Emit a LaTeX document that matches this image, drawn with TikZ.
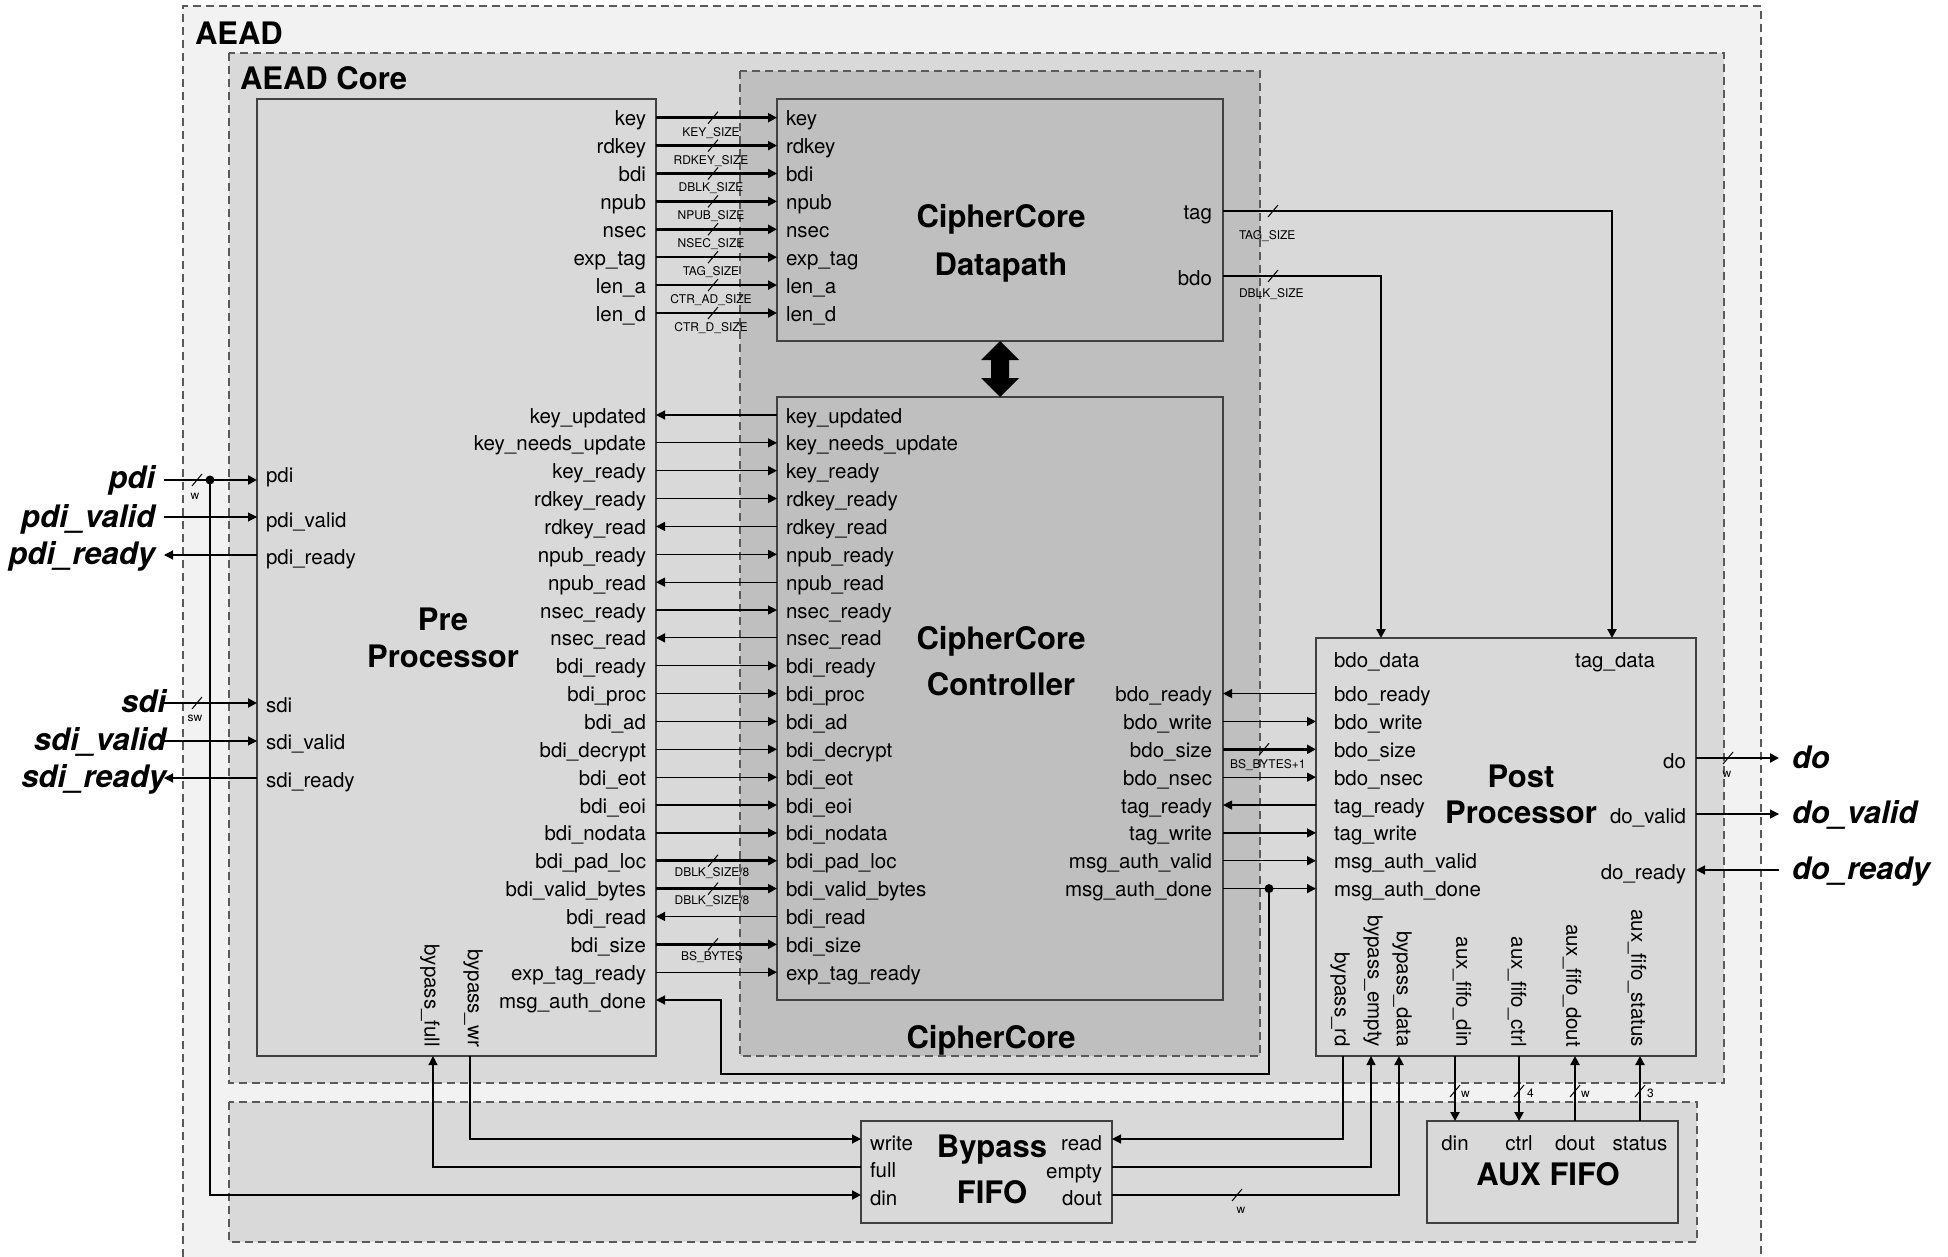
\documentclass[tikz,border=0pt]{standalone}
\usepackage{fontspec}
\setmainfont{TeX Gyre Heros}
\usetikzlibrary{arrows.meta}
\definecolor{aeadfill}{HTML}{F2F2F2}
\definecolor{corefill}{HTML}{D9D9D9}
\definecolor{ccfill}{HTML}{BFBFBF}
\definecolor{dashcol}{HTML}{5A5A5A}
\definecolor{boxcol}{HTML}{404040}
\tikzset{
  lbl/.style={inner sep=0pt, outer sep=0pt},
  sig/.style={lbl, font=\fontsize{20.5}{24}\selectfont},
  buslbl/.style={lbl, font=\fontsize{12}{14}\selectfont},
  ttl/.style={lbl, font=\fontsize{31}{36}\selectfont\bfseries},
  extlbl/.style={lbl, font=\fontsize{31}{36}\selectfont\bfseries\itshape},
  region/.style={draw=dashcol, line width=1.3pt, dash pattern=on 8pt off 5pt},
  blockbox/.style={draw=boxcol, line width=1.6pt, inner sep=0pt, outer sep=0pt, anchor=north west},
  wire/.style={line width=1.2pt},
  bwire/.style={line width=2.6pt},
  fwd/.style={wire, -{Triangle[length=9pt,width=9pt]}},
  bwd/.style={wire, {Triangle[length=9pt,width=9pt]}-},
  busfwd/.style={bwire, -{Triangle[length=9pt,width=9pt]}},
  slashmark/.style={line width=1pt},
}
\newcommand{\busmark}[2]{\draw[slashmark] ({#1-5},{#2+6}) -- ({#1+5},{#2-6});}
\begin{document}
\begin{tikzpicture}[x=1pt,y=-1pt]
\useasboundingbox (0,0) rectangle (1948,1257);

% ---------- regions ----------
\fill[aeadfill] (183,6) rectangle (1761,1257);
\draw[region] (183,1257) -- (183,6) -- (1761,6) -- (1761,1257);
\node[ttl, anchor=base west] (aeadlbl) at (195,45) {AEAD};
\draw[region, fill=corefill] (229,53) rectangle (1724,1083);
\node[ttl, anchor=base west] (corelbl) at (240,90) {AEAD Core};
\draw[region, fill=corefill] (229,1102) rectangle (1697,1242);
\draw[region, fill=ccfill] (740,71) rectangle (1260,1056);
\node[ttl, anchor=base] (cclbl) at (991,1048) {CipherCore};

% ---------- blocks ----------
\node[blockbox, fill=corefill, minimum width=399pt, minimum height=957pt] (pp) at (257,99) {};
\node[blockbox, fill=ccfill, minimum width=446pt, minimum height=242pt] (dp) at (777,99) {};
\node[blockbox, fill=ccfill, minimum width=446pt, minimum height=603pt] (cc) at (777,397) {};
\node[blockbox, fill=corefill, minimum width=380pt, minimum height=418pt] (post) at (1316,638) {};
\node[blockbox, fill=corefill, minimum width=251pt, minimum height=102pt] (byp) at (861,1121) {};
\node[blockbox, fill=corefill, minimum width=251pt, minimum height=102pt] (aux) at (1427,1121) {};

% titles
\node[ttl, anchor=base] (ppt1) at (443,630) {Pre};
\node[ttl, anchor=base] (ppt2) at (443,667) {Processor};
\node[ttl, anchor=base] (dpt1) at (1001,228) {CipherCore};
\node[ttl, anchor=base] (dpt2) at (1001,276) {Datapath};
\node[ttl, anchor=base] (cct1) at (1001,649) {CipherCore};
\node[ttl, anchor=base] (cct2) at (1001,695) {Controller};
\node[ttl, anchor=base] (pot1) at (1521,787) {Post};
\node[ttl, anchor=base] (pot2) at (1521,823) {Processor};
\node[ttl, anchor=base] (byt1) at (992,1157) {Bypass};
\node[ttl, anchor=base] (byt2) at (992,1203) {FIFO};
\node[ttl, anchor=base] (auxt) at (1548,1185) {AUX FIFO};

% double arrow datapath <-> controller
\fill (1000,341) -- (1019,360) -- (1009,360) -- (1009,378) -- (1019,378) -- (1000,397)
      -- (981,378) -- (991,378) -- (991,360) -- (981,360) -- cycle;

% ---------- PreProcessor -> Datapath ----------
\foreach \i/\t/\b in {0/key/KEY\_SIZE, 1/rdkey/RDKEY\_SIZE, 2/bdi/DBLK\_SIZE, 3/npub/NPUB\_SIZE,
    4/nsec/NSEC\_SIZE, 5/exp\_tag/TAG\_SIZE, 6/len\_a/CTR\_AD\_SIZE, 7/len\_d/CTR\_D\_SIZE}{
  \pgfmathsetmacro\y{117.7+27.9*\i}
  \node[sig, anchor=base east] (ppd\i) at (646,\y+8) {\t};
  \node[sig, anchor=base west] (dpl\i) at (786,\y+8) {\t};
  \coordinate (ppdo\i) at (656,\y);
  \coordinate (dpin\i) at (777,\y);
  \draw[busfwd] (ppdo\i) -- (dpin\i);
  \busmark{713}{\y}
  \node[buslbl, anchor=base] (bw\i) at (711,\y+18.5) {\b};
}

% ---------- PreProcessor <-> Controller ----------
\foreach \i/\t/\s in {0/key\_updated/bwd, 1/key\_needs\_update/fwd, 2/key\_ready/fwd,
    3/rdkey\_ready/fwd, 4/rdkey\_read/bwd, 5/npub\_ready/fwd, 6/npub\_read/bwd,
    7/nsec\_ready/fwd, 8/nsec\_read/bwd, 9/bdi\_ready/fwd, 10/bdi\_proc/fwd,
    11/bdi\_ad/fwd, 12/bdi\_decrypt/fwd, 13/bdi\_eot/fwd, 14/bdi\_eoi/fwd,
    15/bdi\_nodata/fwd, 16/bdi\_pad\_loc/busfwd, 17/bdi\_valid\_bytes/busfwd,
    18/bdi\_read/bwd, 19/bdi\_size/busfwd, 20/exp\_tag\_ready/fwd}{
  \pgfmathsetmacro\y{415+27.86*\i}
  \node[sig, anchor=base east] (ppc\i) at (646,\y+8) {\t};
  \node[sig, anchor=base west] (ccl\i) at (786,\y+8) {\t};
  \coordinate (ppco\i) at (656,\y);
  \coordinate (ccin\i) at (777,\y);
  \draw[\s] (ppco\i) -- (ccin\i);
}
\foreach \i/\b in {16/{DBLK\_SIZE/8}, 17/{DBLK\_SIZE/8}, 19/{BS\_BYTES}}{
  \pgfmathsetmacro\y{415+27.86*\i}
  \busmark{713}{\y}
  \node[buslbl, anchor=base] (cb\i) at (712,\y+16) {\b};
}
\node[sig, anchor=base east] (ppmad) at (646,1008) {msg\_auth\_done};
\coordinate (ppmadin) at (656,1000);

% ---------- Controller <-> PostProcessor ----------
\foreach \i/\t/\s in {10/bdo\_ready/bwd, 11/bdo\_write/fwd, 12/bdo\_size/busfwd,
    13/bdo\_nsec/fwd, 14/tag\_ready/bwd, 15/tag\_write/fwd, 16/msg\_auth\_valid/fwd,
    17/msg\_auth\_done/fwd}{
  \pgfmathsetmacro\y{415+27.86*\i}
  \node[sig, anchor=base east] (ccr\i) at (1212,\y+8) {\t};
  \node[sig, anchor=base west] (pol\i) at (1334,\y+8) {\t};
  \coordinate (ccout\i) at (1223,\y);
  \coordinate (poin\i) at (1316,\y);
  \draw[\s] (ccout\i) -- (poin\i);
}
\busmark{1264}{749.3}
\node[buslbl, anchor=base west] (bsb1) at (1230,768) {BS\_BYTES+1};
\coordinate (maddot) at (1269,888.6);
\fill (maddot) circle (4.5pt);
\draw[fwd] (maddot) -- (1269,1074) -- (721,1074) -- (721,1000) -- (ppmadin);

% ---------- Datapath -> PostProcessor ----------
\node[sig, anchor=base east] (dptag) at (1212,220) {tag};
\node[sig, anchor=base east] (dpbdo) at (1212,285) {bdo};
\coordinate (dptago) at (1223,211);
\coordinate (dpbdoo) at (1223,276);
\coordinate (potagin) at (1612,638);
\coordinate (pobdoin) at (1381,638);
\draw[busfwd] (dptago) -| (potagin);
\draw[busfwd] (dpbdoo) -| (pobdoin);
\busmark{1273}{211}
\busmark{1273}{276}
\node[buslbl, anchor=base west] (tagsz) at (1239,240) {TAG\_SIZE};
\node[buslbl, anchor=base west] (dblksz) at (1239,298) {DBLK\_SIZE};
\node[sig, anchor=base west] (pobdod) at (1334,667) {bdo\_data};
\node[sig, anchor=base] (potagd) at (1615,667) {tag\_data};

% ---------- external inputs (left) ----------
\node[sig, anchor=base west] (ippdi) at (266,482) {pdi};
\node[sig, anchor=base west] (ippdiv) at (266,527) {pdi\_valid};
\node[sig, anchor=base west] (ippdir) at (266,564) {pdi\_ready};
\node[sig, anchor=base west] (ipsdi) at (266,712) {sdi};
\node[sig, anchor=base west] (ipsdiv) at (266,749) {sdi\_valid};
\node[sig, anchor=base west] (ipsdir) at (266,787) {sdi\_ready};
\node[extlbl, anchor=base east] (xpdi) at (155,488) {pdi};
\node[extlbl, anchor=base east] (xpdiv) at (155,527) {pdi\_valid};
\node[extlbl, anchor=base east] (xpdir) at (155,564) {pdi\_ready};
\node[extlbl, anchor=base east] (xsdi) at (166,712) {sdi};
\node[extlbl, anchor=base east] (xsdiv) at (166,750) {sdi\_valid};
\node[extlbl, anchor=base east] (xsdir) at (166,787) {sdi\_ready};
\coordinate (cpdi) at (164,480);   \coordinate (ppin1) at (257,480);
\coordinate (cpdiv) at (164,517);  \coordinate (ppin2) at (257,517);
\coordinate (cpdir) at (164,555);  \coordinate (ppin3) at (257,555);
\coordinate (csdi) at (164,703);   \coordinate (ppin4) at (257,703);
\coordinate (csdiv) at (164,741);  \coordinate (ppin5) at (257,741);
\coordinate (csdir) at (164,778);  \coordinate (ppin6) at (257,778);
\draw[busfwd] (cpdi) -- (ppin1);
\draw[fwd] (cpdiv) -- (ppin2);
\draw[bwd] (cpdir) -- (ppin3);
\draw[busfwd] (csdi) -- (ppin4);
\draw[fwd] (csdiv) -- (ppin5);
\draw[bwd] (csdir) -- (ppin6);
\busmark{197}{480}
\busmark{197}{703}
\node[buslbl, anchor=base] (wpdi) at (195,499) {w};
\node[buslbl, anchor=base] (wsdi) at (195,721) {sw};
\coordinate (pdibr) at (210,480);
\fill (pdibr) circle (4.5pt);

% ---------- outputs (right) ----------
\node[sig, anchor=base east] (podo) at (1686,768) {do};
\node[sig, anchor=base east] (podov) at (1686,823) {do\_valid};
\node[sig, anchor=base east] (podor) at (1686,879) {do\_ready};
\node[extlbl, anchor=base west] (xdo) at (1792,768) {do};
\node[extlbl, anchor=base west] (xdov) at (1792,823) {do\_valid};
\node[extlbl, anchor=base west] (xdor) at (1792,879) {do\_ready};
\coordinate (pout1) at (1696,758);  \coordinate (cdo) at (1779,758);
\coordinate (pout2) at (1696,814);  \coordinate (cdov) at (1779,814);
\coordinate (pout3) at (1696,870);  \coordinate (cdor) at (1779,870);
\draw[busfwd] (pout1) -- (cdo);
\draw[fwd] (pout2) -- (cdov);
\draw[bwd] (pout3) -- (cdor);
\busmark{1728}{758}
\node[buslbl, anchor=base] (wdo) at (1727,777) {w};

% ---------- rotated bottom labels ----------
\node[sig, rotate=-90, anchor=east] (ppbf) at (430,1047) {bypass\_full};
\node[sig, rotate=-90, anchor=east] (ppbw) at (473,1047) {bypass\_wr};
\node[sig, rotate=-90, anchor=east] (pobr) at (1340,1047) {bypass\_rd};
\node[sig, rotate=-90, anchor=east] (pobe) at (1373,1047) {bypass\_empty};
\node[sig, rotate=-90, anchor=east] (pobd) at (1402,1047) {bypass\_data};
\node[sig, rotate=-90, anchor=east] (poad) at (1462,1047) {aux\_fifo\_din};
\node[sig, rotate=-90, anchor=east] (poac) at (1517,1047) {aux\_fifo\_ctrl};
\node[sig, rotate=-90, anchor=east] (poao) at (1572,1047) {aux\_fifo\_dout};
\node[sig, rotate=-90, anchor=east] (poas) at (1637,1047) {aux\_fifo\_status};

% ---------- Bypass FIFO ----------
\node[sig, anchor=base west] (bwrite) at (870,1150) {write};
\node[sig, anchor=base west] (bfull) at (870,1177) {full};
\node[sig, anchor=base west] (bdin) at (870,1205) {din};
\node[sig, anchor=base east] (bread) at (1102,1150) {read};
\node[sig, anchor=base east] (bempty) at (1102,1178) {empty};
\node[sig, anchor=base east] (bdout) at (1102,1205) {dout};
\coordinate (ppwr) at (470,1056);   \coordinate (bypwrite) at (861,1139);
\coordinate (ppfull) at (433,1056); \coordinate (bypfull) at (861,1167);
\coordinate (bypdin) at (861,1195);
\coordinate (postrd) at (1343,1056);   \coordinate (bypread) at (1112,1139);
\coordinate (postempty) at (1371,1056); \coordinate (bypempty) at (1112,1167);
\coordinate (postdata) at (1399,1056);  \coordinate (bypdout) at (1112,1195);
\draw[fwd] (ppwr) |- (bypwrite);
\draw[fwd] (bypfull) -| (ppfull);
\draw[busfwd] (pdibr) |- (bypdin);
\draw[fwd] (postrd) |- (bypread);
\draw[fwd] (bypempty) -| (postempty);
\draw[busfwd] (bypdout) -| (postdata);
\busmark{1237}{1195}
\node[buslbl, anchor=base] (wdout) at (1241,1213) {w};

% ---------- AUX FIFO ----------
\node[sig, anchor=base] (adin) at (1455,1150) {din};
\node[sig, anchor=base] (actrl) at (1519,1150) {ctrl};
\node[sig, anchor=base] (adout) at (1575,1150) {dout};
\node[sig, anchor=base] (astat) at (1640,1150) {status};
\coordinate (poauxdin) at (1455,1056); \coordinate (auxdin) at (1455,1121);
\coordinate (poauxctl) at (1519,1056); \coordinate (auxctl) at (1519,1121);
\coordinate (poauxdo) at (1575,1056);  \coordinate (auxdo) at (1575,1121);
\coordinate (poauxst) at (1640,1056);  \coordinate (auxst) at (1640,1121);
\draw[busfwd] (poauxdin) -- (auxdin);
\draw[busfwd] (poauxctl) -- (auxctl);
\draw[busfwd] (auxdo) -- (poauxdo);
\draw[busfwd] (auxst) -- (poauxst);
\busmark{1455}{1091}
\busmark{1519}{1091}
\busmark{1575}{1091}
\busmark{1640}{1091}
\node[buslbl, anchor=base west] (wa1) at (1461,1097) {w};
\node[buslbl, anchor=base west] (wa2) at (1527,1097) {4};
\node[buslbl, anchor=base west] (wa3) at (1581,1097) {w};
\node[buslbl, anchor=base west] (wa4) at (1647,1097) {3};
\end{tikzpicture}
\end{document}
